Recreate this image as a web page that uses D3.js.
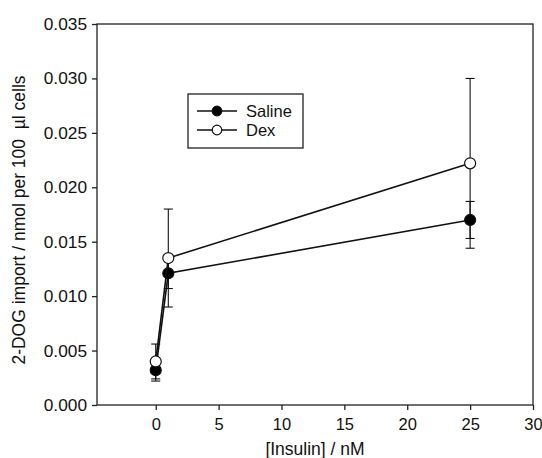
<!DOCTYPE html>
<html>
<head>
<meta charset="utf-8">
<script src="https://cdn.jsdelivr.net/npm/d3@7"></script>
<style>
  body { margin: 0; background: #fff; }
  text { font-family: "Liberation Sans", Arial, sans-serif; fill: #111; }
</style>
</head>
<body>
<svg id="chart" width="542" height="458"></svg>
<script>
// data
var insulin = [0, 1, 25];
var salineMean = [0.0032, 0.0121, 0.0170];
var salineErr = [0.0010, 0.0014, 0.0017];
var dexMean = [0.0040, 0.0135, 0.0222];
var dexErr = [0.0016, 0.0045, 0.0078];
var xTicks = [0, 5, 10, 15, 20, 25, 30];
var yTicks = [0, 0.005, 0.010, 0.015, 0.020, 0.025, 0.030, 0.035];

var svg = d3.select("#chart");

// plot area (window.top is reserved, so plotTop etc.)
var plotLeft = 97, plotRight = 533, plotTop = 24, plotBottom = 405;

var x = d3.scaleLinear().domain([-4.67, 30]).range([plotLeft, plotRight]);
var y = d3.scaleLinear().domain([0, 0.035]).range([plotBottom, plotTop]);

// frame
svg.append("rect")
  .attr("x", plotLeft)
  .attr("y", plotTop)
  .attr("width", plotRight - plotLeft)
  .attr("height", plotBottom - plotTop)
  .attr("fill", "none")
  .attr("stroke", "#222")
  .attr("stroke-width", 1.3);

// axes
var xAxis = svg.append("g")
  .attr("transform", "translate(0," + plotBottom + ")")
  .call(d3.axisBottom(x).tickValues(xTicks).tickSize(5).tickPadding(8).tickFormat(d3.format("d")));

var yAxis = svg.append("g")
  .attr("transform", "translate(" + plotLeft + ",0)")
  .call(d3.axisLeft(y).tickValues(yTicks).tickSize(5).tickPadding(5).tickFormat(d3.format(".3f")));

[xAxis, yAxis].forEach(function (g) {
  g.select(".domain").remove();
  g.selectAll("line").attr("stroke", "#222").attr("stroke-width", 1.3);
  g.selectAll("text").attr("font-family", "Liberation Sans, Arial, sans-serif").attr("fill", "#111");
});
xAxis.selectAll("text").attr("font-size", 16.5);
yAxis.selectAll("text").attr("font-size", 17.3);

// axis titles
svg.append("text")
  .attr("x", (plotLeft + plotRight) / 2)
  .attr("y", 455)
  .attr("text-anchor", "middle")
  .attr("font-size", 17.5)
  .text("[Insulin] / nM");

svg.append("text")
  .attr("transform", "translate(25,220) rotate(-90)")
  .attr("text-anchor", "middle")
  .attr("font-size", 17.5)
  .text("2-DOG import / nmol per 100\u00a0 \u00b5l cells");

// series
var series = [
  { name: "Saline", mean: salineMean, err: salineErr, fill: "#000" },
  { name: "Dex", mean: dexMean, err: dexErr, fill: "#fff" }
];

var line = d3.line()
  .x(function (d) { return x(d.x); })
  .y(function (d) { return y(d.y); });

// error bars first
series.forEach(function (s) {
  var pts = insulin.map(function (v, i) { return { x: v, y: s.mean[i], e: s.err[i] }; });
  var eb = svg.append("g").attr("stroke", "#111").attr("stroke-width", 1.1);
  eb.selectAll("line.v").data(pts).enter().append("line")
    .attr("x1", function (d) { return x(d.x); })
    .attr("x2", function (d) { return x(d.x); })
    .attr("y1", function (d) { return y(d.y - d.e); })
    .attr("y2", function (d) { return y(d.y + d.e); });
  eb.selectAll("line.lo").data(pts).enter().append("line")
    .attr("x1", function (d) { return x(d.x) - 4.5; })
    .attr("x2", function (d) { return x(d.x) + 4.5; })
    .attr("y1", function (d) { return y(d.y - d.e); })
    .attr("y2", function (d) { return y(d.y - d.e); });
  eb.selectAll("line.hi").data(pts).enter().append("line")
    .attr("x1", function (d) { return x(d.x) - 4.5; })
    .attr("x2", function (d) { return x(d.x) + 4.5; })
    .attr("y1", function (d) { return y(d.y + d.e); })
    .attr("y2", function (d) { return y(d.y + d.e); });
});

series.forEach(function (s) {
  var pts = insulin.map(function (v, i) { return { x: v, y: s.mean[i] }; });
  svg.append("path")
    .datum(pts)
    .attr("d", line)
    .attr("fill", "none")
    .attr("stroke", "#111")
    .attr("stroke-width", 1.6);
  svg.selectAll(null).data(pts).enter().append("circle")
    .attr("cx", function (d) { return x(d.x); })
    .attr("cy", function (d) { return y(d.y); })
    .attr("r", 5.5)
    .attr("fill", s.fill)
    .attr("stroke", "#111")
    .attr("stroke-width", 1.2);
});

// legend
var legend = svg.append("g");
legend.append("rect")
  .attr("x", 188)
  .attr("y", 94)
  .attr("width", 115)
  .attr("height", 54)
  .attr("fill", "#fff")
  .attr("stroke", "#222")
  .attr("stroke-width", 1.3);

series.forEach(function (s, i) {
  var ly = 111 + i * 19;
  legend.append("line")
    .attr("x1", 197).attr("x2", 237)
    .attr("y1", ly).attr("y2", ly)
    .attr("stroke", "#111").attr("stroke-width", 1.4);
  legend.append("circle")
    .attr("cx", 217).attr("cy", ly).attr("r", 4.8)
    .attr("fill", s.fill).attr("stroke", "#111").attr("stroke-width", 1.2);
  legend.append("text")
    .attr("x", 246).attr("y", ly)
    .attr("dy", "0.35em")
    .attr("font-size", 16.5)
    .text(s.name);
});
</script>
</body>
</html>
